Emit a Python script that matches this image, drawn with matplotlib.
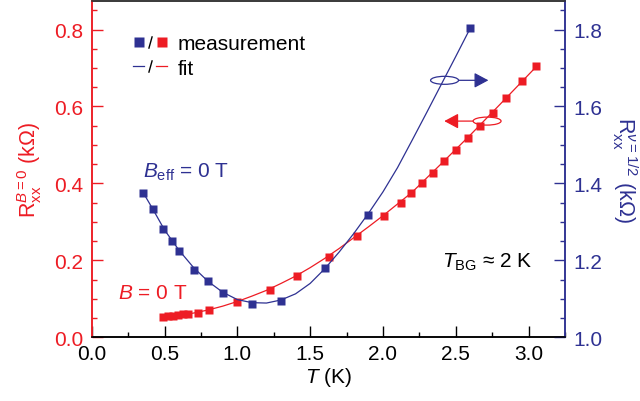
import matplotlib
matplotlib.use("Agg")
import matplotlib.pyplot as plt
from matplotlib.lines import Line2D
from matplotlib.legend_handler import HandlerTuple
from matplotlib.patches import Ellipse
from matplotlib.ticker import MultipleLocator

RED = "#ED1C24"
BLUE = "#2E3192"

# B = 0 T measurement (left axis, kOhm)
t_red = [0.488, 0.522, 0.557, 0.595, 0.630, 0.664, 0.733, 0.808, 0.997, 1.221,
         1.413, 1.631, 1.821, 2.009, 2.124, 2.192, 2.270, 2.344, 2.421, 2.503,
         2.584, 2.669, 2.756, 2.848, 2.958, 3.054]
r_red = [0.052, 0.055, 0.056, 0.059, 0.060, 0.061, 0.064, 0.072, 0.093, 0.124,
         0.160, 0.210, 0.262, 0.316, 0.349, 0.374, 0.400, 0.428, 0.457, 0.488,
         0.519, 0.550, 0.583, 0.622, 0.665, 0.704]

# B = 0 T fit
t_red_fit = [0.49, 0.6, 0.7, 0.8, 0.9, 1.0, 1.1, 1.2, 1.3, 1.4, 1.5, 1.6, 1.7,
             1.8, 1.9, 2.0, 2.2, 2.4, 2.6, 2.8, 3.054]
r_red_fit = [0.051, 0.057, 0.063, 0.071, 0.081, 0.093, 0.107, 0.122, 0.140, 0.159,
             0.181, 0.205, 0.231, 0.259, 0.287, 0.316, 0.377, 0.451, 0.526, 0.604,
             0.704]

# B_eff = 0 T measurement (right axis, kOhm)
t_blue = [0.355, 0.419, 0.492, 0.550, 0.600, 0.703, 0.797, 0.904, 1.102, 1.303,
          1.603, 1.897, 2.600]
r_blue = [1.375, 1.334, 1.282, 1.251, 1.225, 1.176, 1.147, 1.115, 1.087, 1.095,
          1.181, 1.319, 1.804]

# B_eff = 0 T fit
t_blue_fit = [0.355, 0.42, 0.5, 0.6, 0.7, 0.8, 0.9, 1.0, 1.1, 1.2, 1.3, 1.4, 1.5,
              1.6, 1.7, 1.8, 1.9, 2.0, 2.1, 2.2, 2.3, 2.4, 2.5, 2.6]
r_blue_fit = [1.375, 1.333, 1.279, 1.226, 1.181, 1.145, 1.117, 1.098, 1.090, 1.089,
              1.097, 1.113, 1.140, 1.178, 1.222, 1.270, 1.322, 1.378, 1.441, 1.512,
              1.584, 1.657, 1.730, 1.804]

plt.rcParams.update({
    "font.family": ["Liberation Sans", "DejaVu Sans"],
    "font.size": 15,
    "mathtext.fontset": "custom",
    "mathtext.rm": "Liberation Sans",
    "mathtext.it": "Liberation Sans:italic",
    "mathtext.bf": "Liberation Sans:bold",
})

fig = plt.figure(figsize=(6.4, 4.02), dpi=100)
ax = fig.add_axes([0.1433, 0.1585, 0.7395, 0.8373])
ax2 = ax.twinx()

ax.plot(t_red_fit, r_red_fit, "-", color=RED, lw=0.9)
ax.plot(t_red, r_red, "s", color=RED, ms=5.3, mec="none")
ax2.plot(t_blue_fit, r_blue_fit, "-", color=BLUE, lw=0.9)
ax2.plot(t_blue, r_blue, "s", color=BLUE, ms=5.3, mec="none")

ax.set_xlim(0, 3.25)
ax.set_ylim(0, 0.875)
ax2.set_ylim(1.0, 1.875)

ax.xaxis.set_major_locator(MultipleLocator(0.5))
ax.xaxis.set_minor_locator(MultipleLocator(0.25))
ax.yaxis.set_major_locator(MultipleLocator(0.2))
ax.yaxis.set_minor_locator(MultipleLocator(0.05))
ax2.yaxis.set_major_locator(MultipleLocator(0.2))
ax2.yaxis.set_minor_locator(MultipleLocator(0.05))
ax.xaxis.set_major_formatter(lambda v, p: f"{v:.1f}")
ax.yaxis.set_major_formatter(lambda v, p: f"{v:.1f}")
ax2.yaxis.set_major_formatter(lambda v, p: f"{v:.1f}")

for a in (ax, ax2):
    a.tick_params(which="major", direction="in", length=8, width=1)
    a.tick_params(which="minor", direction="in", length=3.6, width=1)
    for s in a.spines.values():
        s.set_linewidth(1.1)
    a.spines["left"].set_color(RED)
    a.spines["right"].set_color(BLUE)
    a.spines["bottom"].set_color("black")
    a.spines["top"].set_color("#333333")
ax.tick_params(axis="y", which="both", colors=RED, pad=6)
ax.tick_params(axis="x", which="both", colors="black", pad=5)
ax2.tick_params(axis="y", which="both", colors=BLUE, pad=6)

ax.set_xlabel(r"$T$ (K)", labelpad=1)
ax.set_ylabel(r"$\mathrm{R}_{\mathrm{xx}}^{B\mathrm{=0}}$ (kΩ)", color=RED,
              fontsize=15.5)
ax.yaxis.set_label_coords(-0.10, 0.5)
ax2.set_ylabel(r"$\mathrm{R}_{\mathrm{xx}}^{\nu\mathrm{=1/2}}$ (kΩ)", color=BLUE,
               rotation=270, va="bottom", fontsize=15.5)
ax2.yaxis.set_label_coords(1.095, 0.5)

ax.text(0.35, 0.431, r"$B_{\mathrm{eff}}$ = 0 T", color=BLUE, va="center")
ax.text(0.178, 0.117, r"$B$ = 0 T", color=RED, va="center")
ax.text(2.404, 0.197, r"$T_{\mathrm{BG}}$ ≈ 2 K", color="black", va="center")

# axis indicators
ax2.add_patch(Ellipse((2.423, 1.668), 0.192, 0.0208, fill=False, ec=BLUE, lw=0.9))
ax2.annotate("", xy=(2.724, 1.668), xytext=(2.519, 1.668),
             arrowprops=dict(arrowstyle="-|>,head_length=0.86,head_width=0.46",
                             mutation_scale=10, color=BLUE, lw=0.9,
                             shrinkA=0, shrinkB=0))
ax2.add_patch(Ellipse((2.715, 1.562), 0.192, 0.0208, fill=False, ec=RED, lw=0.9))
ax2.annotate("", xy=(2.421, 1.562), xytext=(2.619, 1.562),
             arrowprops=dict(arrowstyle="-|>,head_length=0.86,head_width=0.46",
                             mutation_scale=10, color=RED, lw=0.9,
                             shrinkA=0, shrinkB=0))

# legend
sq_b = Line2D([], [], marker="s", color=BLUE, ms=7, ls="none", mec="none")
sq_r = Line2D([], [], marker="s", color=RED, ms=7, ls="none", mec="none")
slash = Line2D([], [], marker=[(-0.28, -1), (0.28, 1)], color="black", ms=9,
               mew=1.0, ls="none")
ln_b = Line2D([], [], color=BLUE, lw=0.9)
ln_r = Line2D([], [], color=RED, lw=0.9)
ax2.legend([(sq_b, slash, sq_r), (ln_b, slash, ln_r)], ["measurement", "fit"],
           handler_map={tuple: HandlerTuple(ndivide=None, pad=0)},
           loc="upper left", bbox_to_anchor=(0.087, 0.90), frameon=False,
           borderpad=0, borderaxespad=0, handlelength=1.65, handletextpad=0.5,
           labelspacing=0.25)

fig.savefig("out.png", dpi=100)
